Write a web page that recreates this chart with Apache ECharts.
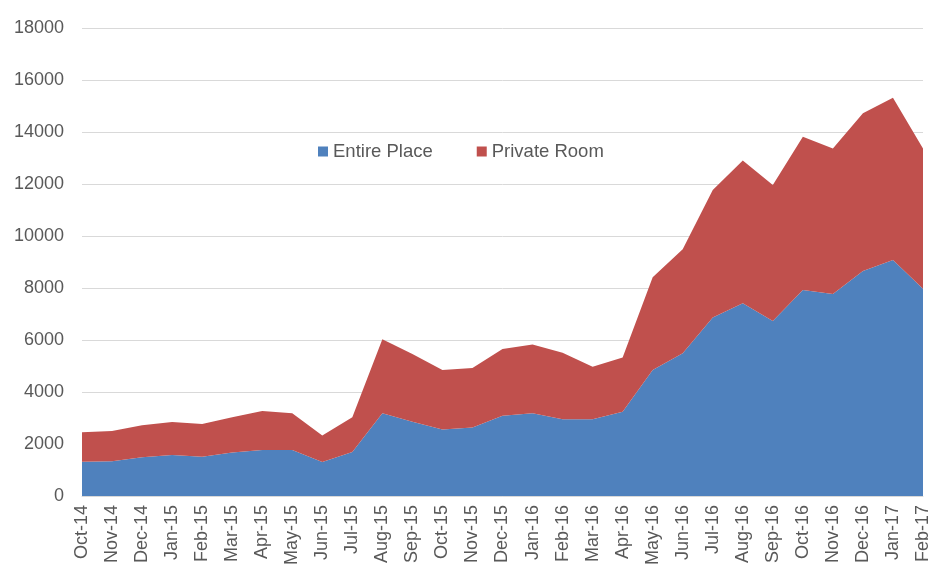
<!DOCTYPE html>
<html>
<head>
<meta charset="utf-8">
<script src="https://cdn.jsdelivr.net/npm/echarts@6/dist/echarts.min.js"></script>
<style>
  html, body { margin: 0; padding: 0; background: #fff; }
  #chart { width: 932px; height: 569px; }
</style>
</head>
<body>
<div id="chart"></div>
<script>
// Monthly listings by room type
const months = [
  'Oct-14','Nov-14','Dec-14','Jan-15','Feb-15','Mar-15','Apr-15','May-15','Jun-15','Jul-15',
  'Aug-15','Sep-15','Oct-15','Nov-15','Dec-15','Jan-16','Feb-16','Mar-16','Apr-16','May-16',
  'Jun-16','Jul-16','Aug-16','Sep-16','Oct-16','Nov-16','Dec-16','Jan-17','Feb-17'
];
const entirePlace = [
  1320, 1340, 1490, 1580, 1510, 1670, 1770, 1770, 1310, 1690,
  3180, 2860, 2560, 2630, 3090, 3180, 2950, 2950, 3240, 4850,
  5490, 6870, 7410, 6730, 7920, 7770, 8650, 9080, 7970
];
const privateRoom = [
  1130, 1160, 1230, 1270, 1260, 1360, 1500, 1410, 1020, 1340,
  2850, 2600, 2290, 2290, 2560, 2650, 2560, 2020, 2090, 3560,
  4000, 4900, 5490, 5230, 5900, 5600, 6070, 6240, 5400
];
const yTicks = { min: 0, max: 18000, interval: 2000 };

const font = 'Liberation Sans, Arial, sans-serif';
const textColor = '#595959';

const chart = echarts.init(document.getElementById('chart'));
chart.setOption({
  animation: false,
  color: ['#4F81BD', '#C0504D'],
  legend: {
    left: 313,
    top: 137,
    itemWidth: 10,
    itemHeight: 10,
    itemGap: 44,
    icon: 'rect',
    textStyle: { fontFamily: font, fontSize: 18.5, color: textColor },
    data: ['Entire Place', 'Private Room']
  },
  grid: { left: 82, right: 9, top: 28, bottom: 73 },
  xAxis: {
    type: 'category',
    boundaryGap: false,
    data: months,
    axisLine: { lineStyle: { color: '#d9d9d9' } },
    axisTick: { show: false },
    axisLabel: {
      rotate: 90,
      interval: 0,
      margin: 9,
      fontFamily: font,
      fontSize: 18,
      color: textColor
    }
  },
  yAxis: {
    type: 'value',
    min: yTicks.min,
    max: yTicks.max,
    interval: yTicks.interval,
    axisLine: { show: false },
    axisTick: { show: false },
    splitLine: { lineStyle: { color: '#d9d9d9', width: 1 } },
    axisLabel: {
      margin: 18,
      fontFamily: font,
      fontSize: 18,
      color: textColor,
      formatter: v => String(v)
    }
  },
  series: [
    {
      name: 'Entire Place',
      type: 'line',
      stack: 'total',
      data: entirePlace,
      showSymbol: false,
      lineStyle: { width: 0 },
      areaStyle: { color: '#4F81BD', opacity: 1 }
    },
    {
      name: 'Private Room',
      type: 'line',
      stack: 'total',
      data: privateRoom,
      showSymbol: false,
      lineStyle: { width: 0 },
      areaStyle: { color: '#C0504D', opacity: 1 }
    }
  ]
});
</script>
</body>
</html>
